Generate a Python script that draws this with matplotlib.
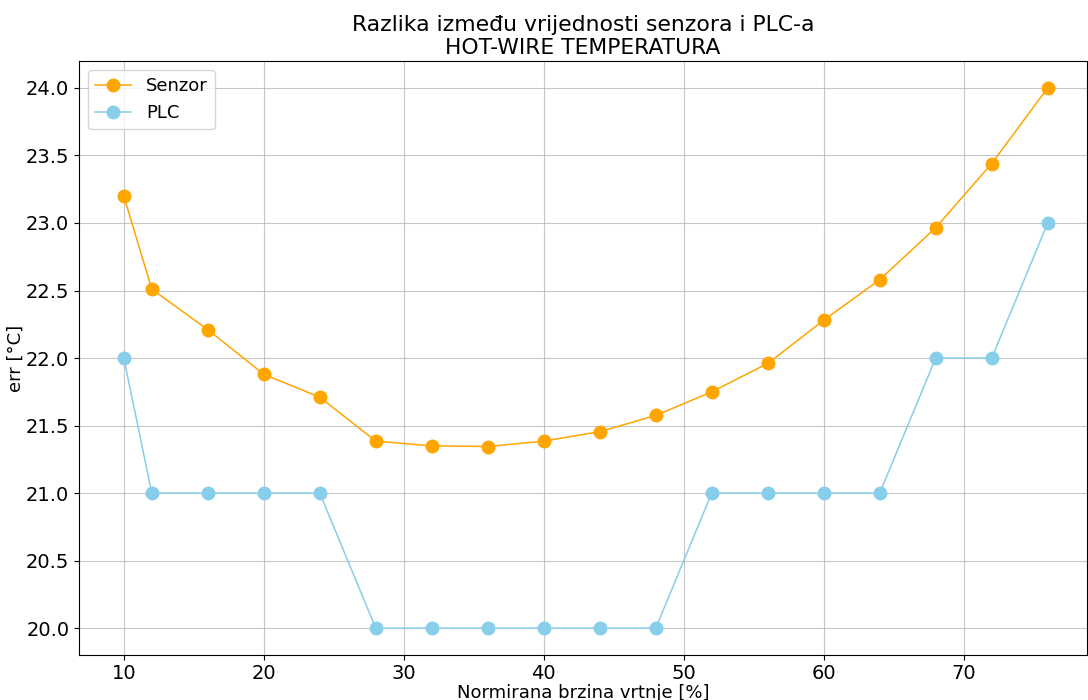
import numpy as np
import matplotlib
matplotlib.use("Agg")
import matplotlib.pyplot as plt

brzina = [10, 12, 16, 20, 24, 28, 32, 36, 40, 44, 48, 52, 56, 60, 64, 68, 72, 76]
senzor = [23.2, 22.51, 22.21, 21.88, 21.71, 21.385, 21.35, 21.345, 21.385, 21.455,
          21.575, 21.75, 21.96, 22.28, 22.58, 22.965, 23.44, 24.0]
plc = [22, 21, 21, 21, 21, 20, 20, 20, 20, 20, 20, 21, 21, 21, 21, 22, 22, 23]

plt.rcParams["font.size"] = 13
plt.rcParams["xtick.labelsize"] = 14
plt.rcParams["ytick.labelsize"] = 14

fig, ax = plt.subplots(figsize=(10.88, 7.0), dpi=100)
fig.subplots_adjust(left=0.0726, right=0.999, top=0.913, bottom=0.064)

ax.plot(brzina, senzor, marker="o", color="orange", markersize=9, linewidth=1.1, label="Senzor")
ax.plot(brzina, plc, marker="o", color="skyblue", markersize=9, linewidth=1.1, label="PLC")

ax.set_xlim(6.8, 78.8)
ax.set_ylim(19.8, 24.2)
ax.tick_params(axis="x", pad=2.5)
ax.grid(True, alpha=0.7)
ax.set_title("Razlika između vrijednosti senzora i PLC-a\nHOT-WIRE TEMPERATURA", fontsize=15.75, pad=5)
ax.set_xlabel("Normirana brzina vrtnje [%]", labelpad=1)
ax.set_ylabel("err [°C]", labelpad=1)
ax.legend(loc="upper left")

fig.savefig("out.png", dpi=100)
